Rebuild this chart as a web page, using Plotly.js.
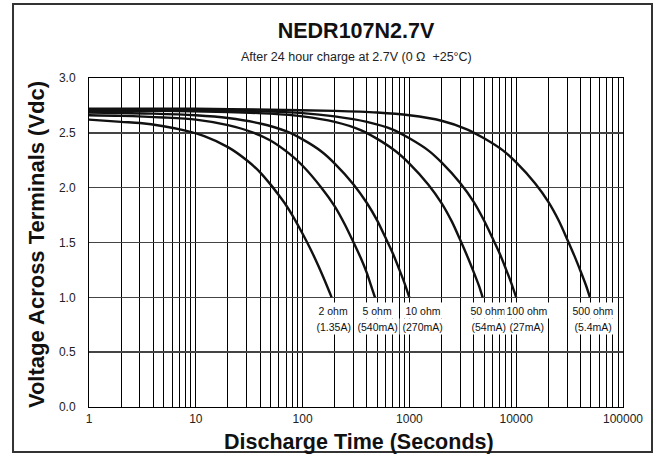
<!DOCTYPE html>
<html>
<head>
<meta charset="utf-8">
<script src="https://cdn.plot.ly/plotly-3.0.1.min.js"></script>
<style>html,body{margin:0;padding:0;background:#fff;}#chart{width:662px;height:464px;}</style>
</head>
<body>
<div id="chart"></div>
<script>
// ---- data ----
const seriesNames = ['2 ohm', '5 ohm', '10 ohm', '50 ohm', '100 ohm', '500 ohm'];
const currentLabels = ['(1.35A)', '(540mA)', '(270mA)', '(54mA)', '(27mA)', '(5.4mA)'];

const time2ohm  = [1, 2, 3, 5, 8, 12, 20, 30, 40, 50, 60, 70, 80, 100, 120, 140, 160, 187];
const volt2ohm  = [2.62, 2.60, 2.59, 2.56, 2.52, 2.47, 2.37, 2.25, 2.14, 2.03, 1.93, 1.84, 1.75, 1.58, 1.43, 1.29, 1.16, 1.00];

const time5ohm  = [1, 2, 5, 10, 20, 35, 50, 75, 100, 150, 200, 250, 300, 350, 400, 450, 476];
const volt5ohm  = [2.66, 2.655, 2.64, 2.62, 2.57, 2.50, 2.43, 2.31, 2.20, 2.00, 1.83, 1.66, 1.50, 1.36, 1.22, 1.07, 1.00];

const time10ohm = [1, 2, 4, 10, 20, 40, 70, 100, 150, 200, 300, 400, 500, 600, 700, 800, 900, 998];
const volt10ohm = [2.685, 2.68, 2.675, 2.66, 2.635, 2.585, 2.515, 2.44, 2.33, 2.22, 2.03, 1.86, 1.70, 1.54, 1.40, 1.26, 1.13, 1.00];

const time50ohm = [1, 5, 20, 50, 100, 200, 350, 500, 750, 1000, 1500, 2000, 2500, 3000, 3500, 4000, 4500, 4850];
const volt50ohm = [2.70, 2.70, 2.69, 2.675, 2.65, 2.60, 2.525, 2.445, 2.33, 2.22, 2.03, 1.86, 1.69, 1.52, 1.37, 1.23, 1.10, 1.00];

const time100ohm = [1, 10, 30, 100, 200, 400, 700, 1000, 1500, 2000, 3000, 4000, 5000, 6000, 7000, 8000, 9000, 10000];
const volt100ohm = [2.71, 2.71, 2.70, 2.68, 2.65, 2.60, 2.53, 2.45, 2.34, 2.23, 2.04, 1.87, 1.70, 1.54, 1.40, 1.26, 1.13, 1.00];

const time500ohm = [1, 10, 50, 200, 500, 1000, 2000, 3500, 5000, 7500, 10000, 15000, 20000, 25000, 30000, 35000, 40000, 45000, 49000];
const volt500ohm = [2.72, 2.72, 2.71, 2.70, 2.685, 2.66, 2.61, 2.53, 2.45, 2.34, 2.23, 2.04, 1.87, 1.70, 1.53, 1.38, 1.24, 1.11, 1.00];

const labelTimes = [193, 498, 1340, 5450, 12600, 52400];

const xTickVals = [1, 10, 100, 1000, 10000, 100000];
const xTickText = ['1', '10', '100', '1000', '10000', '100000'];
const yTickVals = [0, 0.5, 1.0, 1.5, 2.0, 2.5, 3.0];
const yTickText = ['0.0', '0.5', '1.0', '1.5', '2.0', '2.5', '3.0'];

// ---- build chart ----
const allTimes = [time2ohm, time5ohm, time10ohm, time50ohm, time100ohm, time500ohm];
const allVolts = [volt2ohm, volt5ohm, volt10ohm, volt50ohm, volt100ohm, volt500ohm];

const FONT = 'Liberation Sans, Arial, Helvetica, sans-serif';

const traces = seriesNames.map((name, i) => ({
  type: 'scatter', mode: 'lines', name: name,
  x: allTimes[i], y: allVolts[i],
  line: {color: '#111', width: 2.4, shape: 'spline', smoothing: 0.8},
  showlegend: false, hoverinfo: 'skip'
}));

const annotations = [];
seriesNames.forEach((name, i) => {
  annotations.push({
    xref: 'x', yref: 'paper', x: Math.log10(labelTimes[i]), y: 0.2948,
    text: name, showarrow: false, bgcolor: '#fff', borderpad: 1.5,
    xanchor: 'center', yanchor: 'middle',
    font: {family: FONT, size: 10.5, color: '#111'}
  });
  annotations.push({
    xref: 'x', yref: 'paper', x: Math.log10(labelTimes[i]), y: 0.2432,
    text: currentLabels[i], showarrow: false, bgcolor: '#fff', borderpad: 1.5,
    xanchor: 'center', yanchor: 'middle',
    font: {family: FONT, size: 10.5, color: '#111'}
  });
});

annotations.push({
  xref: 'paper', yref: 'paper', x: 0.5, y: 1.0638, showarrow: false,
  text: 'After 24 hour charge at 2.7V (0 Ω  +25°C)',
  xanchor: 'center', yanchor: 'middle',
  font: {family: FONT, size: 12.5, color: '#222'}
});
annotations.push({
  xref: 'paper', yref: 'paper', x: 0.505, y: -0.107, showarrow: false,
  text: '<b>Discharge Time (Seconds)</b>',
  xanchor: 'center', yanchor: 'middle',
  font: {family: FONT, size: 21.5, color: '#111'}
});
annotations.push({
  xref: 'paper', yref: 'paper', x: -0.0993, y: 0.495, showarrow: false,
  text: '<b>Voltage Across Terminals (Vdc)</b>', textangle: -90,
  xanchor: 'center', yanchor: 'middle',
  font: {family: FONT, size: 22, color: '#111'}
});

const layout = {
  width: 662, height: 464,
  margin: {l: 89, r: 39, t: 78, b: 57},
  paper_bgcolor: '#fff', plot_bgcolor: '#fff',
  title: {
    text: '<b>NEDR107N2.7V</b>',
    font: {family: FONT, size: 21.5, color: '#111'},
    xref: 'paper', x: 0.5, xanchor: 'center',
    yref: 'container', y: 0.934, yanchor: 'middle'
  },
  xaxis: {
    type: 'log', range: [0, 5],
    tickmode: 'array', tickvals: xTickVals, ticktext: xTickText,
    ticks: '', ticklabelstandoff: 1,
    tickfont: {family: FONT, size: 12, color: '#222'},
    showgrid: true, gridcolor: '#000', gridwidth: 1,
    minor: {dtick: 'D1', showgrid: true, gridcolor: '#000', gridwidth: 1, ticks: ''},
    showline: true, linecolor: '#000', linewidth: 1, mirror: true,
    zeroline: false, fixedrange: true
  },
  yaxis: {
    range: [0, 3],
    tickmode: 'array', tickvals: yTickVals, ticktext: yTickText,
    ticks: '', ticklabelstandoff: 10,
    tickfont: {family: FONT, size: 12, color: '#222'},
    showgrid: true, gridcolor: '#444', gridwidth: 1.5,
    showline: true, linecolor: '#000', linewidth: 1, mirror: true,
    zeroline: false, fixedrange: true
  },
  annotations: annotations,
  shapes: [{
    type: 'rect', xref: 'paper', yref: 'paper',
    x0: -0.1423, x1: 1.0543, y0: -0.1368, y1: 1.2249,
    line: {color: '#333', width: 2}, fillcolor: 'rgba(0,0,0,0)', layer: 'above'
  }]
};

Plotly.newPlot('chart', traces, layout, {staticPlot: true, displayModeBar: false});
</script>
</body>
</html>
